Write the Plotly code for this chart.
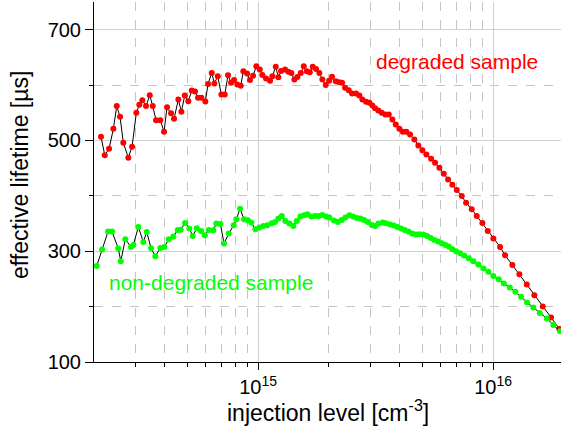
import plotly.graph_objects as go

# injection level in units of 1e15 cm^-3, effective lifetime in µs
DEG_X_E15 = [0.2147,0.2227,0.2323,0.2423,0.2505,0.2587,0.2672,0.2806,0.2910,0.3035,0.3125,0.3219,0.3337,0.3461,0.3564,0.3681,0.3839,0.3981,0.4100,0.4264,0.4391,0.4580,0.4717,0.4876,0.5051,0.5223,0.5394,0.5555,0.5738,0.5967,0.6127,0.6353,0.6517,0.6738,0.6980,0.7216,0.7453,0.7676,0.7904,0.8164,0.8441,0.8659,0.8978,0.9246,0.9522,0.9835,1.0168,1.0430,1.0815,1.1248,1.1504,1.1894,1.2201,1.2528,1.3029,1.3457,1.3858,1.4272,1.4697,1.5195,1.5649,1.6115,1.6596,1.7091,1.7653,1.8233,1.8777,1.9413,2.0051,
             2.0650,2.1412,2.2116,2.2776,2.3452,2.4318,2.5118,2.6122,2.6981,2.7786,2.8812,2.9759,3.0646,3.1468,3.2502,3.3603,3.4809,3.5988,3.7280,3.8543,3.9927,4.1279,4.2761,4.4340,4.6248,4.8097,5.0019,5.2019,5.4471,5.6648,5.9086,6.1688,6.4343,6.7112,7.0069,7.3587,7.6754,8.1162,8.5237,9.0045,9.4937,10.029,10.710,11.248,12.082,12.940,13.913,14.987,16.272,17.651,19.147]
DEG_TAU = [506.7,473.5,485,521,562,542.7,495.8,469,488.6,550,564.3,572.6,562,581.6,562,536.6,536.6,515.7,560,549,539,573.9,552,581,570.8,590,588.3,577,577,570.3,602,622,603,616,583,583,617.7,604,609,601,599,625,621,609,617,634,628,618.4,611.7,608,616,633,614,625.6,628,624,622,610,614.8,622,634,625,623,633,629,622,610,600,608,
           615,607,605,604,595,590.6,584.7,584.7,581,574,570,568,563,558,554,550,547,547,538,529,521,515.7,515.7,510.8,501.8,491,482.5,474.8,467,459.8,450.8,440,429.7,420,410.5,399.7,387.7,375.7,363.7,351,336.6,322.8,307.8,292.8,275.3,258.6,240,220.7,200.3,180.5,159.5]

NONDEG_X_E15 = [0.2059,0.2169,0.2300,0.2392,0.2544,0.2605,0.2725,0.2881,0.2947,0.3095,0.3250,0.3360,0.3505,0.3656,0.3839,0.3993,0.4169,0.4361,0.4553,0.4689,0.4891,0.5101,0.5274,0.5485,0.5721,0.5932,0.6169,0.6453,0.6646,0.6912,0.7167,0.7505,0.7881,0.8085,0.8383,0.8718,0.9040,0.9365,0.9739,1.0128,1.0533,1.0954,1.1437,1.1813,1.2201,1.2614,1.3067,1.3589,1.4132,1.4611,1.5136,1.5694,1.6210,1.6858,1.7480,1.8126,1.8777,1.9470,2.0110,
                2.1058,2.1835,2.2709,2.3521,2.4462,2.5366,2.6302,2.7247,2.8253,2.9296,3.0467,3.1468,3.2502,3.3935,3.5049,3.6450,3.7795,3.9152,4.0597,4.2096,4.3607,4.5217,4.6887,4.8570,5.0512,5.2377,5.4312,5.6260,5.8338,6.0491,6.2663,6.4785,6.7112,6.9590,7.2371,7.5265,7.8814,8.2442,8.6585,9.0931,9.5497,10.029,10.575,11.106,11.778,12.443,13.157,13.954,14.841,15.801,16.925,18.054,19.279]
NONDEG_TAU = [273.5,303,335.5,335.5,304.8,282,321.6,307.8,311.4,343.8,316.8,334.8,305.4,291,306,307.8,321.6,326.5,338.4,339,351,340.9,327.6,341.4,336.6,328.8,338.4,337.8,349.9,349.2,313.9,331.9,346.8,357.6,376.9,357.6,355.9,351.7,339.6,342.7,345.6,346.8,350.4,352.8,358.9,363.7,354.6,349.9,345.6,354.6,362.5,364.9,366.7,362.5,363.7,363.7,365.4,362.5,360.7,
              355.3,352.8,356.4,360.7,364.9,362.5,360,358.9,356.4,352.8,347.4,345.6,349.9,351.7,350.4,348.1,346.3,343.8,340.9,338.4,335.5,331.9,330,330.6,330,327.6,324,320.4,317.5,314.4,311.4,308.5,303.6,300,296.4,292.2,287.4,282,276,268.8,262.8,255.5,249.5,241.8,234.6,226.7,217.7,207.6,198.6,188.3,178.7,166.7,155.3]

assert len(DEG_X_E15) == len(DEG_TAU)
assert len(NONDEG_X_E15) == len(NONDEG_TAU)

X_TICKVALS = [1e15, 1e16]
X_TICKTEXT = ["10<sup>15</sup>", "10<sup>16</sup>"]
SERIES_LABELS = ["degraded sample", "non-degraded sample"]
X_TITLE = "injection level [cm<sup>-3</sup>]"
Y_TITLE = "effective lifetime [µs]"

FONT = "Arial, Liberation Sans, sans-serif"
RED = "#ff0000"
GREEN = "#00ff00"

fig = go.Figure()
fig.add_trace(go.Scatter(
    x=[v * 1e15 for v in DEG_X_E15], y=DEG_TAU, mode="lines+markers",
    line=dict(color="black", width=1),
    marker=dict(color=RED, size=6, line=dict(width=0)),
    showlegend=False))
fig.add_trace(go.Scatter(
    x=[v * 1e15 for v in NONDEG_X_E15], y=NONDEG_TAU, mode="lines+markers",
    line=dict(color="black", width=1),
    marker=dict(color=GREEN, size=6, line=dict(width=0)),
    showlegend=False))

xr = [14.302, 16.289]
yr = [100, 750]
major_grid = "#d0d0d0"
minor_grid = "#c4c4c4"

fig.update_layout(
    width=561, height=426,
    margin=dict(l=94, r=0, t=2, b=64, autoexpand=False),
    paper_bgcolor="white", plot_bgcolor="white",
    font=dict(family=FONT, size=20, color="black"),
    xaxis=dict(
        type="log", range=xr, automargin=False,
        tickmode="array", tickvals=X_TICKVALS, ticktext=X_TICKTEXT,
        ticks="outside", ticklen=7, tickcolor="black",
        showline=True, linecolor="black", linewidth=1,
        showgrid=True, gridcolor=major_grid, gridwidth=1,
        zeroline=False,
        tickfont=dict(size=20),
        minor=dict(dtick="D1", ticks="outside", ticklen=4, tickcolor="black",
                   showgrid=True, gridcolor=minor_grid, griddash="dash", gridwidth=1),
    ),
    yaxis=dict(
        range=yr, tick0=100, dtick=200, automargin=False,
        ticks="outside", ticklen=8, tickcolor="black",
        showline=True, linecolor="black", linewidth=1,
        showgrid=True, gridcolor=major_grid, gridwidth=1,
        zeroline=False,
        tickfont=dict(size=20),
        minor=dict(dtick=100, ticks="outside", ticklen=4, tickcolor="black",
                   showgrid=True, gridcolor=minor_grid, griddash="dash", gridwidth=1),
    ),
    xaxis2=dict(
        type="log", range=xr, overlaying="x", side="top", anchor="y", automargin=False,
        tickmode="array", tickvals=X_TICKVALS, showticklabels=False,
        ticks="inside", ticklen=5, tickcolor="black",
        showline=True, linecolor="#333333", linewidth=1.5,
        showgrid=False, zeroline=False,
        minor=dict(dtick="D1", ticks="inside", ticklen=3, tickcolor="black", showgrid=False),
    ),
    yaxis2=dict(
        range=yr, overlaying="y", side="right", anchor="x", automargin=False,
        tick0=100, dtick=200, showticklabels=False,
        ticks="inside", ticklen=5, tickcolor="black",
        showline=True, linecolor="black", linewidth=1,
        showgrid=False, zeroline=False,
        minor=dict(dtick=100, ticks="inside", ticklen=3, tickcolor="black", showgrid=False),
    ),
    annotations=[
        dict(text=SERIES_LABELS[0], xref="paper", yref="paper", x=0.778, y=0.836,
             xanchor="center", yanchor="middle", showarrow=False,
             font=dict(size=21, color=RED, family=FONT)),
        dict(text=SERIES_LABELS[1], xref="paper", yref="paper", x=0.251, y=0.222,
             xanchor="center", yanchor="middle", showarrow=False,
             font=dict(size=21, color=GREEN, family=FONT)),
        dict(text=X_TITLE, xref="paper", yref="paper", x=0.5, y=-0.136,
             xanchor="center", yanchor="middle", showarrow=False,
             font=dict(size=23, color="black", family=FONT)),
        dict(text=Y_TITLE, xref="paper", yref="paper", x=-0.158, y=0.52,
             xanchor="center", yanchor="middle", textangle=-90, showarrow=False,
             font=dict(size=23, color="black", family=FONT)),
    ],
)

fig.write_html("out.html", config={"displayModeBar": False},
               post_script="document.body.style.margin='0';")
